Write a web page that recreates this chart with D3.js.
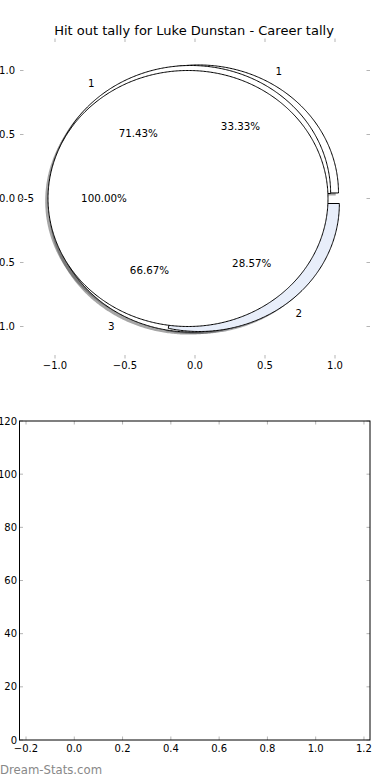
<!DOCTYPE html>
<html>
<head>
<meta charset="utf-8">
<script src="https://cdn.jsdelivr.net/npm/d3@7"></script>
<style>
  html, body { margin: 0; padding: 0; background: #fff; }
  svg { display: block; font-family: "DejaVu Sans", sans-serif; }
</style>
</head>
<body>
<div id="chart"></div>
<script>
// --- data ---
const chartTitle = 'Hit out tally for Luke Dunstan - Career tally';

// three pies drawn on top of each other, bottom one first
const pieLabelsC = ['1', '3'];
const pieValuesC = [1, 2];
const pieLabelsB = ['1', '2'];
const pieValuesB = [5, 2];
const pieLabelsA = ['0-5'];
const pieValuesA = [1];

const topXTicks = [-1.0, -0.5, 0.0, 0.5, 1.0];
const topYTicks = [-1.0, -0.5, 0.0, 0.5, 1.0];
const bottomXTicks = [-0.2, 0.0, 0.2, 0.4, 0.6, 0.8, 1.0, 1.2];
const bottomYTicks = [0, 20, 40, 60, 80, 100, 120];

const W = 390, H = 780;
const explode = 0.05;
const tickGrey = '#b5b5b5';
const tickFont = '10px';
const pieFont = '10.3px';

const svg = d3.select('#chart').append('svg')
    .attr('width', W)
    .attr('height', H)
    .attr('viewBox', `0 0 ${W} ${H}`);

svg.append('text')
    .attr('x', 194)
    .attr('y', 35)
    .attr('text-anchor', 'middle')
    .style('font-size', '13px')
    .text(chartTitle);

// --- top axes (pie) ---
const xTop = d3.scaleLinear().domain([-1.25, 1.25]).range([20, 370]);
const yTop = d3.scaleLinear().domain([-1.25, 1.25]).range([358.5, 38.5]);

const pieAxes = svg.append('g');
const shadowLayer = pieAxes.append('g');
const wedgeLayer = pieAxes.append('g');
const textLayer = pieAxes.append('g');

const line = d3.line().x(d => xTop(d[0])).y(d => yTop(d[1]));

function wedgePoints(cx, cy, t1, t2, r) {
    const pts = [];
    const full = Math.abs(t2 - t1 - 2 * Math.PI) < 1e-9;
    if (!full) pts.push([cx, cy]);
    const n = Math.max(8, Math.ceil((t2 - t1) / 0.01));
    for (let i = 0; i <= n; i++) {
        const t = t1 + (t2 - t1) * i / n;
        pts.push([cx + r * Math.cos(t), cy + r * Math.sin(t)]);
    }
    return pts;
}

function drawPie(labels, values, colors) {
    const arcs = d3.pie().sort(null).startAngle(0).endAngle(2 * Math.PI)(values);
    const total = d3.sum(values);
    arcs.forEach((a, i) => {
        // matplotlib style: counter-clockwise from +x
        const t1 = a.startAngle, t2 = a.endAngle;
        const tm = (t1 + t2) / 2;
        const cx = explode * Math.cos(tm);
        const cy = explode * Math.sin(tm);
        const pts = wedgePoints(cx, cy, t1, t2, 1);
        const fill = d3.rgb(colors[i]);

        shadowLayer.append('path')
            .attr('d', line(pts) + 'Z')
            .attr('transform', `translate(${xTop(-0.02) - xTop(0)},${yTop(-0.02) - yTop(0)})`)
            .attr('fill', d3.rgb(fill.r * 0.3, fill.g * 0.3, fill.b * 0.3))
            .attr('fill-opacity', 0.5);

        wedgeLayer.append('path')
            .attr('d', line(pts) + 'Z')
            .attr('fill', fill)
            .attr('stroke', '#000')
            .attr('stroke-width', 1)
            .attr('stroke-linejoin', 'round');

        const lx = cx + 1.1 * Math.cos(tm), ly = cy + 1.1 * Math.sin(tm);
        textLayer.append('text')
            .attr('x', xTop(lx))
            .attr('y', yTop(ly))
            .attr('dy', '0.35em')
            .attr('text-anchor', lx > 0 ? 'start' : 'end')
            .style('font-size', pieFont)
            .text(labels[i]);

        const px = cx + 0.6 * Math.cos(tm), py = cy + 0.6 * Math.sin(tm);
        textLayer.append('text')
            .attr('x', xTop(px))
            .attr('y', yTop(py))
            .attr('dy', '0.35em')
            .attr('text-anchor', 'middle')
            .style('font-size', pieFont)
            .text(d3.format('.2f')(a.value / total * 100) + '%');
    });
}

drawPie(pieLabelsC, pieValuesC, ['#ffffff', '#ffffff']);
drawPie(pieLabelsB, pieValuesB, ['#ffffff', '#e8eefa']);
drawPie(pieLabelsA, pieValuesA, ['#ffffff']);

// ticks, no spines on the pie axes
const fmt1 = d3.format('.1f');
const ticksTop = pieAxes.append('g');
topXTicks.forEach(v => {
    ticksTop.append('line').attr('x1', xTop(v)).attr('x2', xTop(v))
        .attr('y1', 38.5).attr('y2', 42).attr('stroke', tickGrey);
    ticksTop.append('line').attr('x1', xTop(v)).attr('x2', xTop(v))
        .attr('y1', 358.5).attr('y2', 355).attr('stroke', tickGrey);
    ticksTop.append('text').attr('x', xTop(v)).attr('y', 369)
        .attr('text-anchor', 'middle').style('font-size', tickFont).text(fmt1(v));
});
topYTicks.forEach(v => {
    ticksTop.append('line').attr('x1', 20).attr('x2', 23.5)
        .attr('y1', yTop(v)).attr('y2', yTop(v)).attr('stroke', tickGrey);
    ticksTop.append('line').attr('x1', 370).attr('x2', 366.5)
        .attr('y1', yTop(v)).attr('y2', yTop(v)).attr('stroke', tickGrey);
    ticksTop.append('text').attr('x', 15).attr('y', yTop(v)).attr('dy', '0.35em')
        .attr('text-anchor', 'end').style('font-size', tickFont).text(fmt1(v));
});

// --- bottom axes (empty) ---
const xBot = d3.scaleLinear().domain([-0.227, 1.225]).range([19.5, 370]);
const yBot = d3.scaleLinear().domain([0, 120]).range([740, 421]);
const bot = svg.append('g');

bottomXTicks.forEach(v => {
    bot.append('line').attr('x1', xBot(v)).attr('x2', xBot(v))
        .attr('y1', 740).attr('y2', 736.5).attr('stroke', tickGrey);
    bot.append('line').attr('x1', xBot(v)).attr('x2', xBot(v))
        .attr('y1', 421).attr('y2', 424.5).attr('stroke', tickGrey);
    bot.append('text').attr('x', xBot(v)).attr('y', 752)
        .attr('text-anchor', 'middle').style('font-size', tickFont).text(fmt1(v));
});
bottomYTicks.forEach(v => {
    bot.append('line').attr('x1', 19.5).attr('x2', 23)
        .attr('y1', yBot(v)).attr('y2', yBot(v)).attr('stroke', tickGrey);
    bot.append('line').attr('x1', 370).attr('x2', 366.5)
        .attr('y1', yBot(v)).attr('y2', yBot(v)).attr('stroke', tickGrey);
    bot.append('text').attr('x', 17).attr('y', yBot(v)).attr('dy', '0.35em')
        .attr('text-anchor', 'end').style('font-size', tickFont).text(v);
});

bot.append('rect')
    .attr('x', 19.5).attr('y', 421)
    .attr('width', 370 - 19.5).attr('height', 740 - 421)
    .attr('fill', 'none').attr('stroke', '#000').attr('stroke-width', 1);

svg.append('text')
    .attr('x', 0)
    .attr('y', 774)
    .style('font-size', '11.7px')
    .attr('fill', '#888')
    .text('Dream-Stats.com');
</script>
</body>
</html>
